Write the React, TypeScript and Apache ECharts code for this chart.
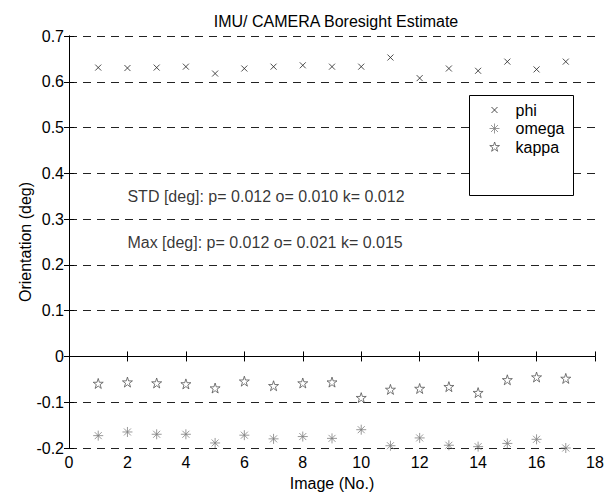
import React, { useEffect, useRef } from "react";
import * as echarts from "echarts";

const images = [1, 2, 3, 4, 5, 6, 7, 8, 9, 10, 11, 12, 13, 14, 15, 16, 17];
const phi = [0.631, 0.630, 0.631, 0.633, 0.618, 0.629, 0.633, 0.636, 0.633, 0.633, 0.653, 0.608, 0.629, 0.624, 0.644, 0.627, 0.644];
const omega = [-0.173, -0.165, -0.170, -0.170, -0.189, -0.172, -0.180, -0.175, -0.179, -0.160, -0.195, -0.178, -0.194, -0.197, -0.190, -0.181, -0.200];
const kappa = [-0.059, -0.056, -0.058, -0.060, -0.069, -0.054, -0.064, -0.058, -0.056, -0.090, -0.072, -0.070, -0.066, -0.079, -0.051, -0.045, -0.048];
const seriesNames = ["phi", "omega", "kappa"];
const annotations = [
  { text: "STD [deg]: p= 0.012 o= 0.010 k= 0.012", x: 2, y: 0.35 },
  { text: "Max [deg]: p= 0.012 o= 0.021 k= 0.015", x: 2, y: 0.25 },
];
const title = "IMU/ CAMERA Boresight Estimate";
const xName = "Image (No.)";
const yName = "Orientation (deg)";

const FONT = "'Liberation Sans', Arial, Helvetica, sans-serif";
const FS = 16;

const CROSS = "path://M0,0L10,10M10,0L0,10";
const ASTER = "path://M5,0L5,10M0,5L10,5M1.5,1.5L8.5,8.5M8.5,1.5L1.5,8.5";
const STAR =
  "path://M10,0L12.245,6.91L19.511,6.91L13.633,11.18L15.878,18.09L10,13.82L4.122,18.09L6.367,11.18L0.489,6.91L7.755,6.91Z";
// legend icons: same glyphs padded inside a 14px invisible box so they keep the plot size
const CROSS_L = "path://M-4,-4M10,10M0,0L6,6M6,0L0,6";
const ASTER_L = "path://M-2,-2M12,12M5,0L5,10M0,5L10,5M1.5,1.5L8.5,8.5M8.5,1.5L1.5,8.5";
const STAR_L =
  "path://M-3.9,-3.9M23.4,23.4M10,0L12.245,6.91L19.511,6.91L13.633,11.18L15.878,18.09L10,13.82L4.122,18.09L6.367,11.18L0.489,6.91L7.755,6.91Z";

export default function App() {
  const ref = useRef<HTMLDivElement>(null);
  useEffect(() => {
    if (!ref.current) return;
    const chart = echarts.init(ref.current, null, { renderer: "svg" });
    const pair = (ys: number[]) => images.map((x, i) => [x, ys[i]]);
    const axisLine = { show: true, lineStyle: { color: "#000", width: 1 } };
    const tick = { show: true, inside: true, length: 5, lineStyle: { color: "#000", width: 1 } };
    const label = { color: "#000", fontSize: FS, fontFamily: FONT };
    const colors = ["#222", "#808080", "#555"];
    const legendStyle = (i: number) => ({
      color: "none",
      borderColor: colors[i],
      borderWidth: 1,
    });
    chart.setOption({
      animation: false,
      backgroundColor: "#fff",
      textStyle: { fontFamily: FONT },
      title: {
        text: title,
        left: 331,
        top: 8,
        textAlign: "center",
        textStyle: { fontSize: FS, fontWeight: "normal", color: "#000", fontFamily: FONT },
      },
      grid: { left: 69, right: 20, top: 36, bottom: 45.5, containLabel: false },
      legend: {
        data: [
          { name: seriesNames[0], icon: CROSS_L, itemStyle: legendStyle(0) },
          { name: seriesNames[1], icon: ASTER_L, itemStyle: legendStyle(1) },
          { name: seriesNames[2], icon: STAR_L, itemStyle: legendStyle(2) },
        ],
        orient: "vertical",
        left: 485,
        top: 100.5,
        padding: 0,
        itemGap: -0.5,
        itemWidth: 14,
        itemHeight: 14,
        z: 10,
        textStyle: {
          fontSize: FS,
          lineHeight: 17,
          color: "#000",
          fontFamily: FONT,
          padding: [0, 0, 0, 9],
        },
      },
      graphic: [
        {
          type: "rect",
          z: 5,
          shape: { x: 469.5, y: 95.5, width: 104, height: 100 },
          style: { fill: "#fff", stroke: "#000", lineWidth: 1 },
        },
      ],
      xAxis: [
        {
          type: "value",
          min: 0,
          max: 18,
          interval: 2,
          position: "bottom",
          axisLine,
          axisTick: tick,
          axisLabel: { ...label, margin: 6 },
          splitLine: { show: false },
          name: xName,
          nameLocation: "middle",
          nameGap: 27,
          nameMoveOverlap: false,
          nameTextStyle: { ...label },
        },
        {
          type: "value",
          min: 0,
          max: 18,
          interval: 2,
          position: "top",
          axisLine,
          axisTick: tick,
          axisLabel: { show: false },
          splitLine: { show: false },
        },
      ],
      yAxis: [
        {
          type: "value",
          min: -0.2,
          max: 0.7,
          interval: 0.1,
          position: "left",
          axisLine,
          axisTick: tick,
          axisLabel: {
            ...label,
            margin: 5,
            formatter: (v: number) => String(Math.round(v * 10) / 10),
          },
          splitLine: { show: true, lineStyle: { color: "#222", width: 1, type: [8, 6] } },
          name: yName,
          nameLocation: "middle",
          nameGap: 36,
          nameMoveOverlap: false,
          nameTextStyle: { ...label },
        },
        {
          type: "value",
          min: -0.2,
          max: 0.7,
          interval: 0.1,
          position: "right",
          axisLine,
          axisTick: tick,
          axisLabel: { show: false },
          splitLine: { show: false },
        },
      ],
      series: [
        {
          name: "phi",
          type: "scatter",
          clip: false,
          data: pair(phi),
          symbol: CROSS,
          symbolSize: 6,
          itemStyle: { color: "none", borderColor: colors[0], borderWidth: 1 },
        },
        {
          name: "omega",
          type: "scatter",
          clip: false,
          data: pair(omega),
          symbol: ASTER,
          symbolSize: 10,
          itemStyle: { color: "none", borderColor: colors[1], borderWidth: 1 },
        },
        {
          name: "kappa",
          type: "scatter",
          clip: false,
          data: pair(kappa),
          symbol: STAR,
          symbolSize: 10,
          itemStyle: { color: "none", borderColor: colors[2], borderWidth: 1 },
        },
        {
          name: "notes",
          type: "scatter",
          silent: true,
          symbolSize: 0,
          data: annotations.map((a) => ({ name: a.text, value: [a.x, a.y] })),
          label: {
            show: true,
            position: "right",
            distance: 0,
            formatter: (p: any) => p.name,
            color: "#000",
            fontSize: FS,
            fontFamily: FONT,
          },
        },
      ],
    });
    return () => chart.dispose();
  }, []);
  return (
    <div
      ref={ref}
      style={{ position: "fixed", left: 0, top: 0, width: 615, height: 496, background: "#fff" }}
    />
  );
}
